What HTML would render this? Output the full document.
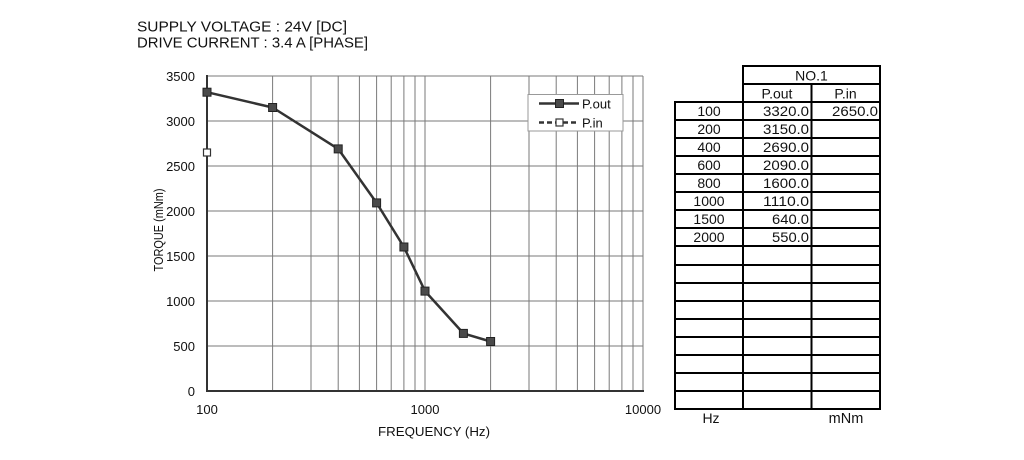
<!DOCTYPE html>
<html><head><meta charset="utf-8"><style>
html,body{margin:0;padding:0;background:#fff;}
svg{display:block;font-family:"Liberation Sans",Arial,sans-serif;}
</style></head><body>
<svg width="1024" height="460" viewBox="0 0 1024 460" xmlns="http://www.w3.org/2000/svg">
<rect width="1024" height="460" fill="#fff"/>
<!-- header -->
<text x="137" y="31.5" font-size="15" fill="#111" textLength="210" lengthAdjust="spacingAndGlyphs">SUPPLY VOLTAGE : 24V [DC]</text>
<text x="137" y="47.5" font-size="15" fill="#111" textLength="231" lengthAdjust="spacingAndGlyphs">DRIVE CURRENT : 3.4 A [PHASE]</text>

<!-- grid -->
<g stroke="#7a7a7a" stroke-width="1">
<line x1="207" y1="76" x2="643" y2="76"/>
<line x1="207" y1="121" x2="643" y2="121"/>
<line x1="207" y1="166" x2="643" y2="166"/>
<line x1="207" y1="211" x2="643" y2="211"/>
<line x1="207" y1="256" x2="643" y2="256"/>
<line x1="207" y1="301" x2="643" y2="301"/>
<line x1="207" y1="346" x2="643" y2="346"/>
<line x1="272.6" y1="76" x2="272.6" y2="391"/>
<line x1="311" y1="76" x2="311" y2="391"/>
<line x1="338.2" y1="76" x2="338.2" y2="391"/>
<line x1="359.4" y1="76" x2="359.4" y2="391"/>
<line x1="376.6" y1="76" x2="376.6" y2="391"/>
<line x1="391.2" y1="76" x2="391.2" y2="391"/>
<line x1="403.9" y1="76" x2="403.9" y2="391"/>
<line x1="415" y1="76" x2="415" y2="391"/>
<line x1="425" y1="76" x2="425" y2="391"/>
<line x1="490.6" y1="76" x2="490.6" y2="391"/>
<line x1="529" y1="76" x2="529" y2="391"/>
<line x1="556.2" y1="76" x2="556.2" y2="391"/>
<line x1="577.4" y1="76" x2="577.4" y2="391"/>
<line x1="594.6" y1="76" x2="594.6" y2="391"/>
<line x1="609.2" y1="76" x2="609.2" y2="391"/>
<line x1="621.9" y1="76" x2="621.9" y2="391"/>
<line x1="633" y1="76" x2="633" y2="391"/>
<line x1="643" y1="76" x2="643" y2="391"/>
</g>
<!-- axes -->
<g stroke="#333" stroke-width="2">
<line x1="207" y1="75" x2="207" y2="392"/>
<line x1="206" y1="391" x2="644" y2="391"/>
</g>

<!-- y tick labels -->
<g font-size="13" fill="#111" text-anchor="end">
<text x="195" y="81">3500</text>
<text x="195" y="126">3000</text>
<text x="195" y="171">2500</text>
<text x="195" y="216">2000</text>
<text x="195" y="261">1500</text>
<text x="195" y="306">1000</text>
<text x="195" y="351">500</text>
<text x="195" y="396">0</text>
</g>
<!-- x tick labels -->
<g font-size="13" fill="#111" text-anchor="middle">
<text x="207" y="414">100</text>
<text x="425" y="414">1000</text>
<text x="643" y="414">10000</text>
</g>
<text x="434" y="436" font-size="13" fill="#111" text-anchor="middle" textLength="112" lengthAdjust="spacingAndGlyphs">FREQUENCY (Hz)</text>
<text transform="translate(163,230) rotate(-90)" font-size="13" fill="#111" text-anchor="middle" textLength="83" lengthAdjust="spacingAndGlyphs">TORQUE (mNm)</text>

<!-- series P.out -->
<polyline fill="none" stroke="#333" stroke-width="2.5" stroke-linejoin="round" points="207,92.2 272.6,107.5 338.2,148.9 376.6,202.9 403.9,247 425,291.1 463.4,333.4 490.6,341.5"/>
<g fill="#4a4a4a" stroke="#222" stroke-width="1">
<rect x="203" y="88.2" width="8" height="8"/>
<rect x="268.6" y="103.5" width="8" height="8"/>
<rect x="334.2" y="144.9" width="8" height="8"/>
<rect x="372.6" y="198.9" width="8" height="8"/>
<rect x="399.9" y="243" width="8" height="8"/>
<rect x="421" y="287.1" width="8" height="8"/>
<rect x="459.4" y="329.4" width="8" height="8"/>
<rect x="486.6" y="337.5" width="8" height="8"/>
</g>
<!-- series P.in -->
<rect x="203.5" y="149" width="7" height="7" fill="#fff" stroke="#333" stroke-width="1.2"/>

<!-- legend -->
<rect x="528" y="94.5" width="95" height="36.5" fill="#fff" stroke="#999" stroke-width="1"/>
<line x1="539" y1="103.5" x2="579" y2="103.5" stroke="#333" stroke-width="2.5"/>
<rect x="555.5" y="99.5" width="8" height="8" fill="#4a4a4a" stroke="#222"/>
<text x="582" y="108.5" font-size="13" fill="#111">P.out</text>
<line x1="539" y1="122.5" x2="579" y2="122.5" stroke="#333" stroke-width="2.5" stroke-dasharray="5,3"/>
<rect x="556" y="119" width="7" height="7" fill="#fff" stroke="#333" stroke-width="1.2"/>
<text x="582" y="127.5" font-size="13" fill="#111">P.in</text>

<!-- table -->
<g stroke="#000" stroke-width="2" fill="none">
<rect x="743" y="66" width="137" height="343"/>
<line x1="743" y1="84" x2="880" y2="84"/>
<line x1="811.5" y1="84" x2="811.5" y2="409"/>
<rect x="675" y="102" width="68" height="307"/>
<line x1="675" y1="102" x2="880" y2="102"/>
<line x1="675" y1="120" x2="880" y2="120"/>
<line x1="675" y1="138" x2="880" y2="138"/>
<line x1="675" y1="156" x2="880" y2="156"/>
<line x1="675" y1="174" x2="880" y2="174"/>
<line x1="675" y1="192" x2="880" y2="192"/>
<line x1="675" y1="210" x2="880" y2="210"/>
<line x1="675" y1="228" x2="880" y2="228"/>
<line x1="675" y1="246" x2="880" y2="246"/>
<line x1="675" y1="265" x2="880" y2="265"/>
<line x1="675" y1="283" x2="880" y2="283"/>
<line x1="675" y1="301" x2="880" y2="301"/>
<line x1="675" y1="319" x2="880" y2="319"/>
<line x1="675" y1="337" x2="880" y2="337"/>
<line x1="675" y1="355" x2="880" y2="355"/>
<line x1="675" y1="373" x2="880" y2="373"/>
<line x1="675" y1="391" x2="880" y2="391"/>
</g>
<g font-size="14" fill="#111">
<text x="811.5" y="80.5" text-anchor="middle">NO.1</text>
<text x="777" y="98.5" text-anchor="middle">P.out</text>
<text x="845.5" y="98.5" text-anchor="middle">P.in</text>
<g text-anchor="middle">
<text x="709" y="116">100</text>
<text x="709" y="134">200</text>
<text x="709" y="152">400</text>
<text x="709" y="170">600</text>
<text x="709" y="188">800</text>
<text x="709" y="206">1000</text>
<text x="709" y="224">1500</text>
<text x="709" y="242">2000</text>
</g>
<g text-anchor="end">
<text x="809" y="116" textLength="46" lengthAdjust="spacingAndGlyphs">3320.0</text>
<text x="809" y="134" textLength="46" lengthAdjust="spacingAndGlyphs">3150.0</text>
<text x="809" y="152" textLength="46" lengthAdjust="spacingAndGlyphs">2690.0</text>
<text x="809" y="170" textLength="46" lengthAdjust="spacingAndGlyphs">2090.0</text>
<text x="809" y="188" textLength="46" lengthAdjust="spacingAndGlyphs">1600.0</text>
<text x="809" y="206" textLength="46" lengthAdjust="spacingAndGlyphs">1110.0</text>
<text x="809" y="224" textLength="37" lengthAdjust="spacingAndGlyphs">640.0</text>
<text x="809" y="242" textLength="37" lengthAdjust="spacingAndGlyphs">550.0</text>
<text x="878" y="116" textLength="46" lengthAdjust="spacingAndGlyphs">2650.0</text>
</g>
<text x="711" y="423" text-anchor="middle">Hz</text>
<text x="846" y="423" text-anchor="middle" font-size="14.5">mNm</text>
</g>
</svg>
</body></html>
